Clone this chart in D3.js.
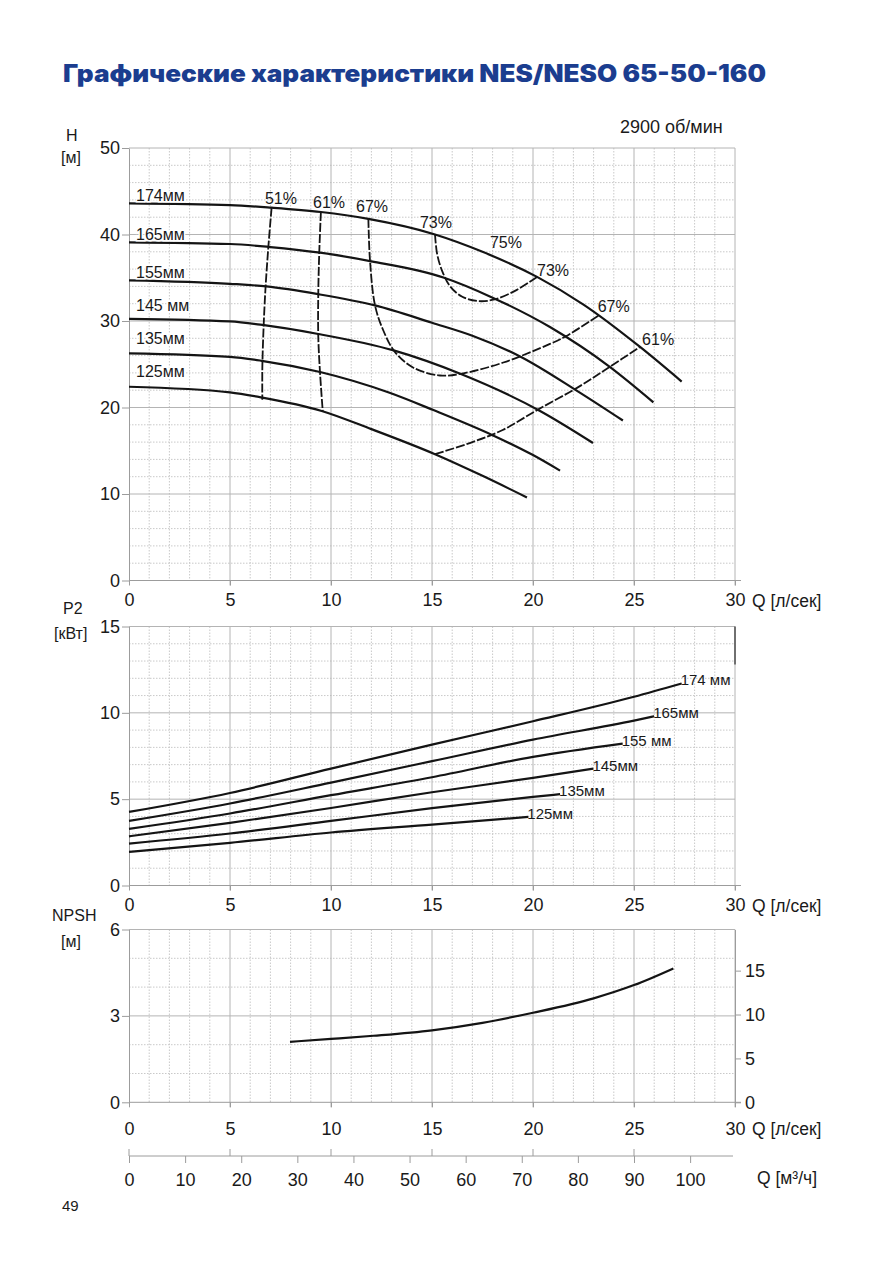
<!DOCTYPE html>
<html>
<head>
<meta charset="utf-8">
<script src="https://cdn.jsdelivr.net/npm/d3@7"></script>
<style>
  body { margin: 0; background: #fff; }
  text { font-family: "Liberation Sans", Arial, sans-serif; fill: #1a1a1a; }
</style>
</head>
<body>
<svg id="chart" width="893" height="1263"></svg>
<script>
// ---- data ----
var qTicks = [0, 5, 10, 15, 20, 25, 30];
var m3hTicks = [0, 10, 20, 30, 40, 50, 60, 70, 80, 90, 100];
var headTicks = [0, 10, 20, 30, 40, 50];
var powerTicks = [0, 5, 10, 15];
var npshTicks = [0, 3, 6];
var npshFtTicks = [0, 5, 10, 15];

// H-Q curves, [Q l/s, H m]
var head174 = [[0, 43.6], [5, 43.4], [7.06, 43.1], [9.5, 42.6], [11.85, 41.8], [15.15, 40.0], [17.5, 38.0], [20.2, 35.1], [22.5, 31.9], [25.3, 27.0], [27.36, 23.0]];
var head165 = [[0, 39.1], [5, 38.9], [7, 38.55], [9.46, 37.9], [12, 36.9], [15.6, 35.0], [18, 32.7], [20.84, 29.3], [23.8, 24.7], [25.96, 20.6]];
var head155 = [[0, 34.7], [5, 34.3], [6.8, 34.0], [9.37, 33.1], [12.18, 31.8], [15, 29.8], [17, 28.3], [19.36, 25.9], [22.2, 21.9], [24.45, 18.5]];
var head145 = [[0, 30.25], [5, 29.95], [6.6, 29.55], [9.37, 28.5], [13.1, 26.6], [16.4, 23.9], [20.35, 19.6], [22.97, 15.9]];
var head135 = [[0, 26.25], [5, 25.85], [6.57, 25.4], [9.46, 24.1], [12.9, 21.7], [15.07, 19.7], [18, 16.8], [20, 14.5], [21.34, 12.7]];
var head125 = [[0, 22.4], [5, 21.75], [6.6, 21.15], [9.54, 19.6], [12, 17.5], [15.15, 14.6], [17.5, 12.1], [19.7, 9.6]];
var headLabels = ["174мм", "165мм", "155мм", "145 мм", "135мм", "125мм"];
var headLabelQ = [0.35, 0.35, 0.35, 0.35, 0.35, 0.35];
var headLabelH = [43.9, 39.4, 35.0, 31.1, 27.3, 23.5];

// efficiency iso-lines
var eff51 = [[7.06, 43.1], [6.9, 38.6], [6.75, 33.5], [6.65, 28.5], [6.6, 24.5], [6.6, 20.9]];
var eff61 = [[9.5, 42.6], [9.42, 38.0], [9.37, 33.2], [9.37, 28.2], [9.46, 23.9], [9.59, 19.6]];
var eff67 = [[11.85, 41.8], [11.93, 37.0], [12.18, 31.8], [12.59, 28.9], [13.17, 26.4], [14.08, 24.6], [15.4, 23.7], [16.55, 23.95], [18.53, 25.2], [20.84, 27.35], [21.6, 28.2], [23.3, 30.7]];
var eff73 = [[15.15, 40.0], [15.25, 37.8], [15.5, 35.8], [15.9, 34.0], [16.5, 32.8], [17.3, 32.3], [18.1, 32.5], [19.2, 33.6], [20.2, 35.1]];
var eff61b = [[15.15, 14.6], [17.0, 16.0], [18.5, 17.4], [20.2, 19.7], [22.2, 22.3], [23.8, 24.7], [25.3, 27.0]];
var effLabels = ["51%", "61%", "67%", "73%", "75%", "73%", "67%", "61%"];
var effLabelQ = [6.73, 9.11, 11.24, 14.4, 17.87, 20.2, 23.2, 25.4];
var effLabelH = [43.5, 43.05, 42.6, 40.75, 38.4, 35.2, 31.05, 27.2];

// P2 curves, [Q l/s, P kW]
var power174 = [[0, 4.26], [5, 5.36], [10, 6.77], [15, 8.16], [20, 9.51], [25, 10.93], [27.36, 11.7]];
var power165 = [[0, 3.74], [5, 4.75], [10, 5.96], [15, 7.2], [20, 8.45], [25, 9.55], [26, 9.8]];
var power155 = [[0, 3.28], [5, 4.17], [10, 5.23], [15, 6.27], [20, 7.45], [24.44, 8.22]];
var power145 = [[0, 2.85], [5, 3.63], [10, 4.49], [15, 5.4], [20, 6.23], [22.99, 6.77]];
var power135 = [[0, 2.43], [5, 3.01], [10, 3.74], [15, 4.48], [20, 5.13], [21.34, 5.29]];
var power125 = [[0, 1.95], [5, 2.47], [10, 3.07], [15, 3.53], [19.77, 3.97]];
var powerLabels = ["174 мм", "165мм", "155 мм", "145мм", "135мм", "125мм"];

// NPSH curve, [Q l/s, NPSH m]
var npsh = [[7.97, 2.1], [10, 2.2], [12.1, 2.31], [15, 2.5], [17.5, 2.76], [20, 3.11], [23, 3.61], [25, 4.07], [26.95, 4.65]];

// ---- layout ----
var svg = d3.select("#chart");
var gridMajor = "#b4b4b4";
var gridMinor = "#c9c9c9";
var axisColor = "#9c9c9c";
var ink = "#141414";

var x = d3.scaleLinear().domain([0, 30]).range([129, 735]);
var headY = d3.scaleLinear().domain([0, 50]).range([580.5, 148]);
var powerY = d3.scaleLinear().domain([0, 15]).range([885.5, 626.5]);
var npshY = d3.scaleLinear().domain([0, 6]).range([1102.3, 929.5]);
var npshFtY = d3.scaleLinear().domain([0, 6 / 0.3048]).range([1102.3, 929.5]);
var m3h = d3.scaleLinear().domain([0, 108]).range([129, 735]);

svg.append("rect").attr("width", 893).attr("height", 1263).attr("fill", "#fff");

drawPanel = (y, majorTicks, minorTicks, labelGap) => {
  var g = svg.append("g");
  var top = y.range()[1];
  var bottom = y.range()[0];

  // dotted minor grid
  g.selectAll(".vminor")
    .data(d3.range(1, 30).filter((d) => d % 5 != 0))
    .join("line")
    .attr("x1", (d) => x(d)).attr("x2", (d) => x(d))
    .attr("y1", top).attr("y2", bottom)
    .attr("stroke", gridMinor).attr("stroke-dasharray", "1.5,1.5");
  g.selectAll(".hminor")
    .data(minorTicks)
    .join("line")
    .attr("x1", x(0)).attr("x2", x(30))
    .attr("y1", (d) => y(d)).attr("y2", (d) => y(d))
    .attr("stroke", gridMinor).attr("stroke-dasharray", "1.5,1.5");

  // solid major grid
  g.selectAll(".vmajor")
    .data(qTicks.slice(1))
    .join("line")
    .attr("x1", (d) => x(d)).attr("x2", (d) => x(d))
    .attr("y1", top).attr("y2", bottom + 5)
    .attr("stroke", gridMajor);
  g.selectAll(".hmajor")
    .data(majorTicks.slice(1))
    .join("line")
    .attr("x1", x(0)).attr("x2", x(30))
    .attr("y1", (d) => y(d)).attr("y2", (d) => y(d))
    .attr("stroke", gridMajor);

  // left axis
  var ay = g.append("g")
    .attr("transform", `translate(${x(0)},0)`)
    .call(d3.axisLeft(y).tickValues(majorTicks).tickFormat(d3.format("d")).tickSize(7).tickSizeOuter(0).tickPadding(2));
  ay.select(".domain").attr("stroke", axisColor);
  ay.selectAll(".tick line").attr("stroke", axisColor);
  ay.selectAll("text").style("font-size", "18px").attr("fill", ink);

  // bottom axis
  var ax = g.append("g")
    .attr("transform", `translate(0,${bottom})`)
    .call(d3.axisBottom(x).tickValues(qTicks).tickSize(5).tickSizeOuter(0).tickPadding(labelGap - 5));
  ax.select(".domain").remove();
  ax.selectAll(".tick line").attr("stroke", axisColor);
  ax.selectAll("text").style("font-size", "18px").attr("fill", ink);
  g.append("line")
    .attr("x1", x(0)).attr("x2", x(30) + 6)
    .attr("y1", bottom).attr("y2", bottom)
    .attr("stroke", axisColor);

  g.append("text")
    .attr("x", 752).attr("y", bottom + labelGap + 7)
    .attr("dy", "0.35em")
    .style("font-size", "17.5px")
    .text("Q [л/сек]");
  return g;
};

drawCurve = (pts, xs, ys, dashed) => {
  // pump curves run left to right, iso-efficiency lines fold back on themselves
  var line = d3.line()
    .x((d) => xs(d[0]))
    .y((d) => ys(d[1]))
    .curve(dashed ? d3.curveCatmullRom.alpha(0.5) : d3.curveMonotoneX);
  svg.append("path")
    .datum(pts)
    .attr("d", line)
    .attr("fill", "none")
    .attr("stroke", ink)
    .attr("stroke-width", dashed ? 1.8 : 2.2)
    .attr("stroke-dasharray", dashed ? "9,2" : null)
    .attr("stroke-linejoin", "round");
};

// ---- title ----
svg.append("text")
  .attr("x", 63).attr("y", 82)
  .attr("textLength", 703)
  .attr("lengthAdjust", "spacingAndGlyphs")
  .style("font-family", "Inter, 'Noto Sans', sans-serif")
  .style("font-size", "24px")
  .style("font-weight", 900)
  .style("fill", "#1b3d8f")
  .text("Графические характеристики NES/NESO 65-50-160");

svg.append("text").attr("x", 620).attr("y", 133).style("font-size", "18px").text("2900 об/мин");

// ---- H chart ----
drawPanel(headY, headTicks, d3.range(2, 50, 2).filter((d) => d % 10 != 0), 13);
svg.append("text").attr("x", 66).attr("y", 141).style("font-size", "16px").text("H");
svg.append("text").attr("x", 61).attr("y", 163).style("font-size", "16px").text("[м]");

var heads = [head174, head165, head155, head145, head135, head125];
heads.forEach((c) => drawCurve(c, x, headY, false));
[eff51, eff61, eff67, eff73, eff61b].forEach((c) => drawCurve(c, x, headY, true));

svg.append("g").selectAll("text")
  .data(headLabels)
  .join("text")
  .attr("x", (d, i) => x(headLabelQ[i]))
  .attr("y", (d, i) => headY(headLabelH[i]))
  .style("font-size", "16px")
  .attr("stroke", "#fff").attr("stroke-width", 3).attr("paint-order", "stroke")
  .text((d) => d);

svg.append("g").selectAll("text")
  .data(effLabels)
  .join("text")
  .attr("x", (d, i) => x(effLabelQ[i]))
  .attr("y", (d, i) => headY(effLabelH[i]))
  .style("font-size", "16px")
  .text((d) => d);

// ---- P2 chart ----
drawPanel(powerY, powerTicks, d3.range(1, 15).filter((d) => d % 5 != 0), 13);
svg.append("text").attr("x", 63).attr("y", 614).style("font-size", "16px").text("P2");
svg.append("text").attr("x", 54).attr("y", 639).style("font-size", "16px").text("[кВт]");
svg.append("line")
  .attr("x1", x(30)).attr("x2", x(30))
  .attr("y1", powerY(15)).attr("y2", powerY(12.8))
  .attr("stroke", "#555").attr("stroke-width", 1.6);

var powers = [power174, power165, power155, power145, power135, power125];
powers.forEach((c) => drawCurve(c, x, powerY, false));
svg.append("g").selectAll("text")
  .data(powerLabels)
  .join("text")
  .attr("x", (d, i) => x(powers[i][powers[i].length - 1][0]) - 1)
  .attr("y", (d, i) => powerY(powers[i][powers[i].length - 1][1]) + 2)
  .style("font-size", "15px")
  .text((d) => d);

// ---- NPSH chart ----
drawPanel(npshY, npshTicks, [1, 2, 4, 5], 20);
svg.append("text").attr("x", 52).attr("y", 921).style("font-size", "16px").text("NPSH");
svg.append("text").attr("x", 61).attr("y", 947).style("font-size", "16px").text("[м]");

var ar = svg.append("g")
  .attr("transform", `translate(${x(30)},0)`)
  .call(d3.axisRight(npshFtY).tickValues(npshFtTicks).tickSize(6).tickSizeOuter(0).tickPadding(4));
ar.select(".domain").attr("stroke", axisColor);
ar.selectAll(".tick line").attr("stroke", axisColor);
ar.selectAll("text").style("font-size", "18px").attr("fill", ink);

drawCurve(npsh, x, npshY, false);

// ---- m3/h scale ----
var yM = 1156;
svg.append("line")
  .attr("x1", x(0)).attr("x2", x(30) - 2)
  .attr("y1", yM).attr("y2", yM)
  .attr("stroke", axisColor);
svg.append("g").selectAll("line")
  .data(qTicks.slice(0, 6))
  .join("line")
  .attr("x1", (d) => x(d)).attr("x2", (d) => x(d))
  .attr("y1", yM - 7).attr("y2", yM)
  .attr("stroke", axisColor);
var am = svg.append("g")
  .attr("transform", `translate(0,${yM})`)
  .call(d3.axisBottom(m3h).tickValues(m3hTicks).tickSize(7).tickSizeOuter(0).tickPadding(10));
am.select(".domain").remove();
am.selectAll(".tick line").attr("stroke", axisColor);
am.selectAll("text").style("font-size", "18px").attr("fill", ink);
svg.append("text").attr("x", 757).attr("y", 1178).attr("dy", "0.35em").style("font-size", "17.5px").text("Q [м³/ч]");

svg.append("text").attr("x", 62).attr("y", 1211).style("font-size", "15px").attr("fill", "#333").text("49");
</script>
</body>
</html>
